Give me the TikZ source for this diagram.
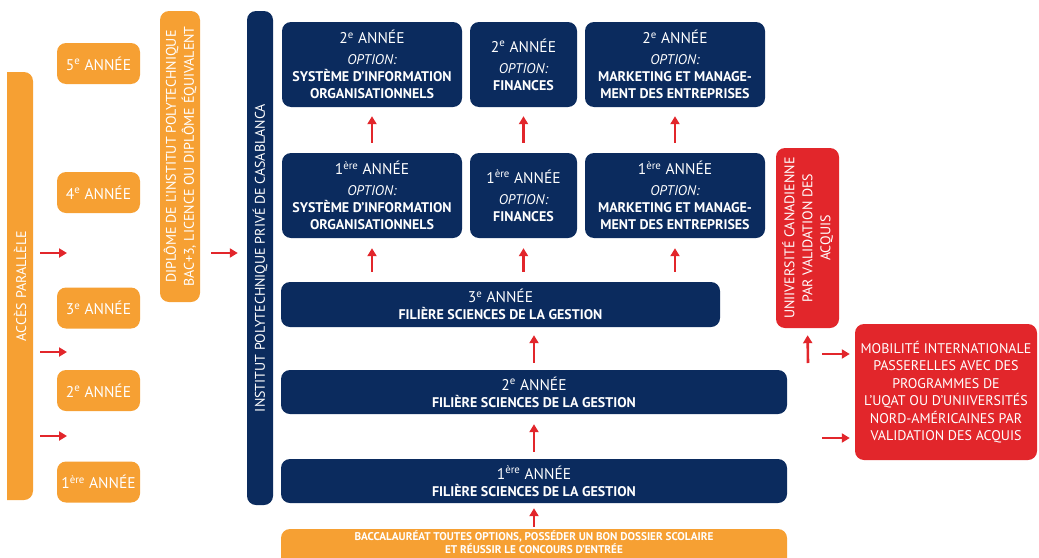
\documentclass[tikz,border=0pt]{standalone}
\usepackage{fontspec}
\setmainfont{PT Sans}
\usetikzlibrary{arrows.meta,positioning}
\definecolor{navy}{HTML}{0B2B5E}
\definecolor{orng}{HTML}{F6A033}
\definecolor{rred}{HTML}{E2262B}
\tikzset{>={Triangle[width=9pt,length=8pt]}}
\newcommand{\yr}{\fontsize{15.5}{17}\selectfont}
\newcommand{\sbf}{\bfseries\fontsize{14}{17}\selectfont}

\begin{document}
\begin{tikzpicture}[x=1pt,y=-1pt]
      \tikzstyle{nbox} = [fill=navy, text=white, rounded corners=9pt, align=center, inner sep=0pt, font=\fontsize{14}{17}\selectfont]
      \tikzstyle{obox} = [fill=orng, text=white, rounded corners=9pt, align=center, inner sep=0pt, font=\fontsize{14}{18}\selectfont]
      \tikzstyle{rbox} = [fill=rred, text=white, rounded corners=9pt, align=center, inner sep=0pt, font=\fontsize{14}{18}\selectfont]
      \tikzstyle{arr} = [->, draw=rred, line width=2.6pt]
      \useasboundingbox (0,0) rectangle (1039,557);

      %%%%%%%%%%%%%%%%%%%%%%%%%%%%%% 
      %% Left: parallel access
      %%%%%%%%%%%%%%%%%%%%%%%%%%%%%% 
      \fill[orng] (7,72) [rounded corners=9pt] -- (33,72) -- (33,500) [sharp corners] -- (7,500) -- cycle;
      \node[text=white, font=\fontsize{14}{18}\selectfont, rotate=90, minimum width=428pt, minimum height=26pt, inner sep=0pt] (acces) at (20,286) {ACCÈS PARALLÈLE};

      \node[obox, minimum width=83pt, minimum height=41pt] (y5) at (98.5,63.5) {\yr 5\textsuperscript{e} ANNÉE};
      \node[obox, minimum width=83pt, minimum height=41pt] (y4) at (98.5,192.5) {\yr 4\textsuperscript{e} ANNÉE};
      \node[obox, minimum width=83pt, minimum height=41pt] (y3) at (98.5,308) {\yr 3\textsuperscript{e} ANNÉE};
      \node[obox, minimum width=83pt, minimum height=41pt] (y2) at (98.5,390.5) {\yr 2\textsuperscript{e} ANNÉE};
      \node[obox, minimum width=83pt, minimum height=41pt] (y1) at (98.5,482) {\yr 1\textsuperscript{ère} ANNÉE};

      \coordinate (l1) at (67,253);
      \coordinate (l2) at (67,352);
      \coordinate (l3) at (67,436);
      \draw[arr, shorten <=7pt] (acces.south |- l1) -- (l1);
      \draw[arr, shorten <=7pt] (acces.south |- l2) -- (l2);
      \draw[arr, shorten <=7pt] (acces.south |- l3) -- (l3);

      \node[obox, rotate=90, minimum width=291pt, minimum height=40pt] (dipl) at (180,156.5)
        {DIPLÔME DE L’INSTITUT POLYTECHNIQUE\\ BAC+3, LICENCE OU DIPLÔME ÉQUIVALENT};
      \node[nbox, rotate=90, minimum width=494pt, minimum height=26pt] (inst) at (260,258)
        {INSTITUT POLYTECHNIQUE PRIVÉ DE CASABLANCA};
      \coordinate (l4) at (0,253);
      \draw[arr, shorten <=11pt, shorten >=9pt] (dipl.south |- l4) -- (inst.north |- l4);

      %%%%%%%%%%%%%%%%%%%%%%%%%%%%%% 
      %% Options, 1st and 2nd year
      %%%%%%%%%%%%%%%%%%%%%%%%%%%%%% 
      \node[nbox, minimum width=180pt, minimum height=85pt] (sio2) at (372,64.5)
        {\yr 2\textsuperscript{e} ANNÉE\\[4pt] \itshape OPTION:\\ \sbf SYSTÈME D’INFORMATION\\ \sbf ORGANISATIONNELS};
      \node[nbox, minimum width=107pt, minimum height=85pt] (fin2) at (523.5,64.5)
        {\yr 2\textsuperscript{e} ANNÉE\\[4pt] \itshape OPTION:\\ \sbf FINANCES};
      \node[nbox, minimum width=180pt, minimum height=85pt] (mkt2) at (675,64.5)
        {\yr 2\textsuperscript{e} ANNÉE\\[4pt] \itshape OPTION:\\ \sbf MARKETING ET MANAGE-\\ \sbf MENT DES ENTREPRISES};

      \node[nbox, minimum width=180pt, minimum height=85pt] (sio1) at (372,195.5)
        {\yr 1\textsuperscript{ère} ANNÉE\\[4pt] \itshape OPTION:\\ \sbf SYSTÈME D’INFORMATION\\ \sbf ORGANISATIONNELS};
      \node[nbox, minimum width=107pt, minimum height=85pt] (fin1) at (523.5,195.5)
        {\yr 1\textsuperscript{ère} ANNÉE\\[4pt] \itshape OPTION:\\ \sbf FINANCES};
      \node[nbox, minimum width=180pt, minimum height=85pt] (mkt1) at (675,195.5)
        {\yr 1\textsuperscript{ère} ANNÉE\\[4pt] \itshape OPTION:\\ \sbf MARKETING ET MANAGE-\\ \sbf MENT DES ENTREPRISES};

      \draw[arr, shorten <=10pt, shorten >=9pt] (sio1.north) -- (sio2.south);
      \draw[arr, shorten <=10pt, shorten >=9pt] (fin1.north) -- (fin2.south);
      \draw[arr, shorten <=10pt, shorten >=9pt] (mkt1.north) -- (mkt2.south);

      %%%%%%%%%%%%%%%%%%%%%%%%%%%%%% 
      %% Common trunk
      %%%%%%%%%%%%%%%%%%%%%%%%%%%%%% 
      \node[nbox, minimum width=439pt, minimum height=45pt] (s3) at (500.5,304.5)
        {\yr 3\textsuperscript{e} ANNÉE\\ \sbf FILIÈRE SCIENCES DE LA GESTION};
      \node[nbox, minimum width=506pt, minimum height=44pt] (s2) at (534,392)
        {\yr 2\textsuperscript{e} ANNÉE\\ \sbf FILIÈRE SCIENCES DE LA GESTION};
      \node[nbox, minimum width=506pt, minimum height=44pt] (s1) at (534,481)
        {\yr 1\textsuperscript{ère} ANNÉE\\ \sbf FILIÈRE SCIENCES DE LA GESTION};
      \node[obox, minimum width=506pt, minimum height=40pt] (bac) at (534,549) {};
      \node[text=white, align=center, inner sep=0pt, font=\bfseries\fontsize{11.2}{13}\selectfont] (bactxt) at (534,542)
        {BACCALAURÉAT TOUTES OPTIONS, POSSÉDER UN BON DOSSIER SCOLAIRE\\ ET RÉUSSIR LE CONCOURS D’ENTRÉE};

      \draw[arr, shorten <=10pt, shorten >=10pt] (sio1.south |- s3.north) -- (sio1.south);
      \draw[arr, shorten <=10pt, shorten >=10pt] (fin1.south |- s3.north) -- (fin1.south);
      \draw[arr, shorten <=10pt, shorten >=10pt] (mkt1.south |- s3.north) -- (mkt1.south);

      \draw[arr, shorten <=7pt, shorten >=8pt] (s2.north) -- (s2.north |- s3.south);
      \draw[arr, shorten <=7pt, shorten >=10pt] (s1.north) -- (s2.south);
      \draw[arr, shorten <=2pt, shorten >=5pt] (bac.north) -- (s1.south);

      %%%%%%%%%%%%%%%%%%%%%%%%%%%%%% 
      %% Right: international mobility
      %%%%%%%%%%%%%%%%%%%%%%%%%%%%%% 
      \node[rbox, rotate=90, minimum width=180pt, minimum height=63pt] (univ) at (807.5,238)
        {UNIIVERSITÉ CANADIENNE\\ PAR VALIDATION DES\\ ACQUIS};
      \node[rbox, minimum width=182pt, minimum height=136pt, font=\fontsize{14}{17.5}\selectfont] (mobil) at (946,392)
        {MOBILITÉ INTERNATIONALE\\ PASSERELLES AVEC DES\\ PROGRAMMES DE\\ L’UQAT OU D’UNIIVERSITÉS\\ NORD-AMÉRICAINES PAR\\ VALIDATION DES ACQUIS};

      \coordinate (r0) at (808,363);
      \coordinate (r1) at (822,354);
      \coordinate (r2) at (822,438);
      \draw[arr, shorten >=7pt] (r0) -- (univ.west);
      \draw[arr, shorten >=5pt] (r1) -- (mobil.west |- r1);
      \draw[arr, shorten >=5pt] (r2) -- (mobil.west |- r2);

\end{tikzpicture}
\end{document}
